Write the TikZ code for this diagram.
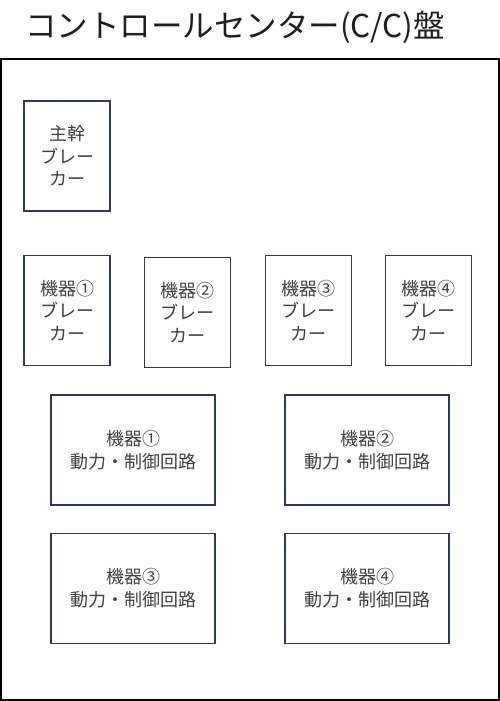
\documentclass[tikz,border=0pt]{standalone}
\usepackage{fontspec}
\setmainfont{Noto Sans CJK JP}
\definecolor{boxc}{RGB}{47,58,90}
\definecolor{txtc}{RGB}{64,64,64}
\begin{document}
\begin{tikzpicture}[x=1pt,y=-1pt,
  panelbox/.style={draw=black, line width=1.4pt, inner sep=0pt, minimum width=498pt, minimum height=641pt},
  brk/.style={draw=boxc, line width=1.6pt, text=txtc, align=center, inner sep=0pt,
    minimum width=86pt, minimum height=110pt, font=\fontsize{18}{22.5}\selectfont},
  circ/.style={draw=boxc, line width=1.6pt, text=txtc, align=center, inner sep=0pt,
    minimum width=164pt, minimum height=110pt, font=\fontsize{18}{23}\selectfont}
]
\useasboundingbox (0,0) rectangle (500,701);
\node[font=\fontsize{31.5}{36}\selectfont, text=black!88, inner sep=0pt] (title) at (235,27) {コントロールセンター(C/C)盤};
\node[panelbox] (panel) at (250,379.5) {};
\node[brk] (main) at (67,156) {主幹\\ブレー\\カー};
\node[brk] (b1) at (67,310.5) {機器①\\ブレー\\カー};
\node[brk] (b2) at (187.5,312.5) {機器②\\ブレー\\カー};
\node[brk] (b3) at (308.5,310.5) {機器③\\ブレー\\カー};
\node[brk] (b4) at (428.5,310.5) {機器④\\ブレー\\カー};
\node[circ] (c1) at (133,450) {機器①\\動力・制御回路};
\node[circ] (c2) at (367,450) {機器②\\動力・制御回路};
\node[circ] (c3) at (133,588.5) {機器③\\動力・制御回路};
\node[circ] (c4) at (367,588.5) {機器④\\動力・制御回路};
\end{tikzpicture}
\end{document}
